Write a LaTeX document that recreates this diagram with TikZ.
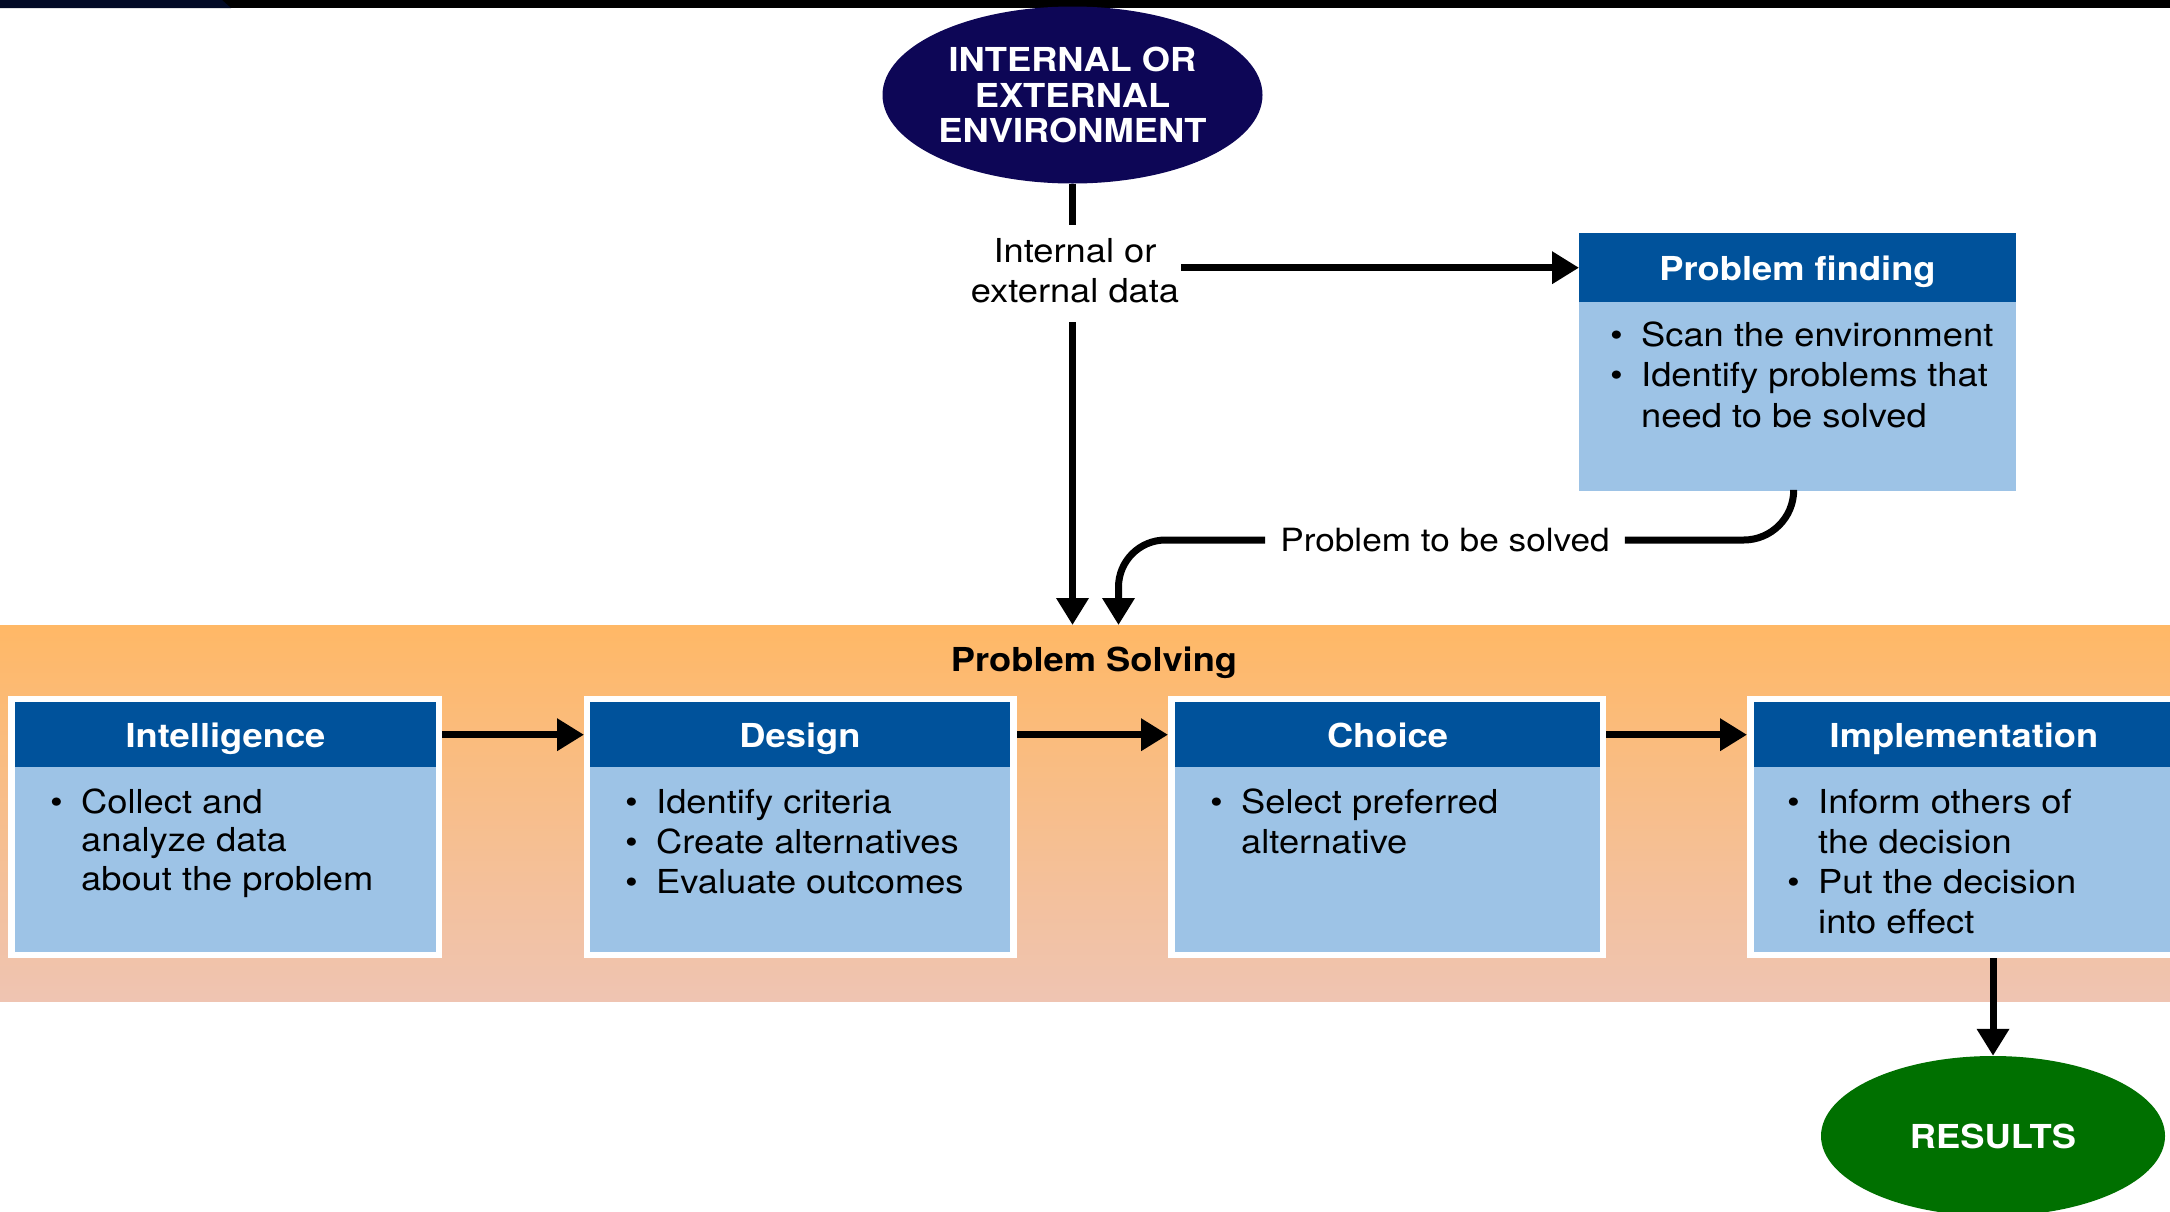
\documentclass[tikz,border=0pt]{standalone}
\usepackage{fontspec}
\setmainfont{TeX Gyre Heros}[FakeStretch=1.1]
\usetikzlibrary{shapes.geometric,arrows.meta}
\definecolor{hdrblue}{RGB}{0,82,155}
\definecolor{bodyblue}{RGB}{157,195,230}
\definecolor{envnavy}{RGB}{13,6,86}
\definecolor{topnavy}{RGB}{2,10,38}
\definecolor{resgreen}{RGB}{0,112,0}
\definecolor{bandtop}{RGB}{255,184,102}
\definecolor{bandmid}{RGB}{253,193,146}
\definecolor{bandbot}{RGB}{239,196,178}
\newcommand\bodyfont{\fontsize{33}{40}\selectfont}
\newcommand\titlefont{\bfseries\fontsize{33}{40}\selectfont}
\newcommand\blist[1]{\begin{tabular}[t]{@{}p{31pt}@{}l@{}}#1\end{tabular}}
\tikzset{
  conn/.style={line width=7pt, draw=black},
  arr/.style={conn, -{Triangle[length=27pt,width=31pt]}},
  hdr/.style={rectangle, fill=hdrblue, inner sep=0, anchor=north west},
  bdy/.style={rectangle, fill=bodyblue, inner sep=0, anchor=north west},
  frame/.style={rectangle, fill=white, inner sep=0, anchor=north west},
  ttl/.style={text=white, font=\titlefont, anchor=base, inner sep=0},
  txt/.style={font=\bodyfont, anchor=base west, inner sep=0},
}
\begin{document}
\begin{tikzpicture}[x=1pt,y=-1pt]
\useasboundingbox (0,0) rectangle (2170,1211);
\clip (0,0) rectangle (2170,1211);
\fill[white] (0,0) rectangle (2170,1211);
% top bar
\fill[black] (0,0) rectangle (2170,8);
\fill[topnavy] (0,0) -- (222,0) -- (231,8) -- (0,8) -- cycle;

% environment ellipse
\node[ellipse, fill=envnavy, minimum width=380pt, minimum height=177pt, inner sep=0,
      text=white, font=\bfseries\fontsize{33}{35.5}\selectfont, align=center]
      (env) at (1072.5,95) {INTERNAL OR\\EXTERNAL\\ENVIRONMENT};

% data label
\node[font=\fontsize{33}{40}\selectfont, align=center, inner xsep=2pt, inner ysep=0]
      (data) at (1075,271) {Internal or\\external data};
\coordinate (d1) at (1072.5,225);
\coordinate (d2) at (1072.5,322);

% problem solving band
\node[anchor=north west, minimum width=2170pt, minimum height=376pt, inner sep=0,
      top color=bandtop, middle color=bandmid, bottom color=bandbot]
      (band) at (0,625) {};
\node[font=\titlefont, anchor=base, inner sep=0] (pstitle) at (1094,671) {Problem Solving};

% problem finding
\node[hdr, minimum width=437pt, minimum height=69pt] (pfhead) at (1579,233) {};
\node[bdy, minimum width=437pt, minimum height=189pt] (pfbody) at (1579,302) {};
\node[ttl] (pftitle) at (1797.5,280.5) {Problem finding};
\node[txt, font=\fontsize{33}{40.5}\selectfont] (pftext) at (1610,346)
  {\blist{\textbullet & Scan the environment\\ \textbullet & Identify problems that\\ & need to be solved}};

% stage boxes
\node[frame, minimum width=434pt, minimum height=262pt] (intout) at (8,696) {};
\node[hdr, minimum width=421pt, minimum height=65pt] (inthead) at (15,702) {};
\node[bdy, minimum width=421pt, minimum height=185pt] (intbody) at (15,767) {};
\node[ttl] (inttitle) at (225.5,747.5) {Intelligence};
\node[txt, font=\fontsize{33}{38.5}\selectfont] (inttext) at (50,813)
  {\blist{\textbullet & Collect and\\ & analyze data\\ & about the problem}};

\node[frame, minimum width=433pt, minimum height=262pt] (desout) at (584,696) {};
\node[hdr, minimum width=420pt, minimum height=65pt] (deshead) at (590,702) {};
\node[bdy, minimum width=420pt, minimum height=185pt] (desbody) at (590,767) {};
\node[ttl] (destitle) at (800,747.5) {Design};
\node[txt] (destext) at (625,813)
  {\blist{\textbullet & Identify criteria\\ \textbullet & Create alternatives\\ \textbullet & Evaluate outcomes}};

\node[frame, minimum width=438pt, minimum height=262pt] (choout) at (1168,696) {};
\node[hdr, minimum width=425pt, minimum height=65pt] (chohead) at (1175,702) {};
\node[bdy, minimum width=425pt, minimum height=185pt] (chobody) at (1175,767) {};
\node[ttl] (chotitle) at (1387.5,747.5) {Choice};
\node[txt] (chotext) at (1210,813)
  {\blist{\textbullet & Select preferred\\ & alternative}};

\node[frame, minimum width=434pt, minimum height=262pt] (implout) at (1747,696) {};
\node[hdr, minimum width=420pt, minimum height=65pt] (implhead) at (1754,702) {};
\node[bdy, minimum width=420pt, minimum height=185pt] (implbody) at (1754,767) {};
\node[ttl] (impltitle) at (1964,747.5) {Implementation};
\node[txt] (impltext) at (1787,813)
  {\blist{\textbullet & Inform others of\\ & the decision\\ \textbullet & Put the decision\\ & into effect}};

% results
\node[ellipse, fill=resgreen, minimum width=344pt, minimum height=160pt, inner sep=0,
      text=white, font=\titlefont] (res) at (1993,1136) {RESULTS};

% problem to be solved label
\node[font=\fontsize{32}{40}\selectfont, inner xsep=15pt, inner ysep=0] (ptbs) at (1445,540) {Problem to be solved};

% connectors
\draw[conn] (env.south) -- (env.south |- d1);
\draw[arr] (d2) -- (d2 |- band.north);
\draw[arr] (data.east |- pfhead.west) -- (pfhead.west);
\draw[conn, rounded corners=50pt] ([xshift=-4pt]pfbody.south) |- (ptbs.east);
\draw[arr, rounded corners=47pt] (ptbs.west) -| ([xshift=46pt]d2 |- band.north);
\draw[arr] (inthead.east -| intout.east) -- (deshead.west -| desout.west);
\draw[arr] (deshead.east -| desout.east) -- (chohead.west -| choout.west);
\draw[arr] (chohead.east -| choout.east) -- (implhead.west -| implout.west);
\draw[arr] (res.north |- implout.south) -- (res.north);
\end{tikzpicture}
\end{document}
